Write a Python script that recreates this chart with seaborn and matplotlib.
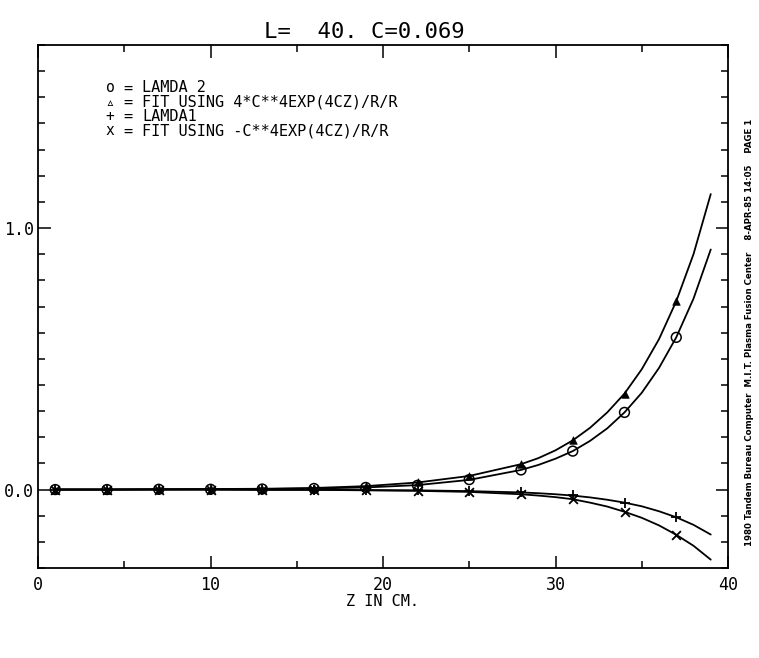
import numpy as np
import matplotlib
matplotlib.use("Agg")
import matplotlib.pyplot as plt
import seaborn as sns
from matplotlib.ticker import MultipleLocator, FormatStrFormatter

# 측정점 (z 위치)
z_pts = [1, 4, 7, 10, 13, 16, 19, 22, 25, 28, 31, 34, 37]
lamda2 = [0.000, 0.000, 0.001, 0.001, 0.002, 0.004, 0.008, 0.016, 0.038, 0.075, 0.147, 0.295, 0.582]
fit_pos = [0.000, 0.000, 0.001, 0.002, 0.003, 0.006, 0.013, 0.028, 0.052, 0.097, 0.188, 0.367, 0.720]
lamda1 = [0.000, 0.000, 0.000, 0.000, -0.001, -0.001, -0.002, -0.003, -0.006, -0.011, -0.021, -0.050, -0.106]
fit_neg = [0.000, 0.000, 0.000, 0.000, -0.001, -0.001, -0.003, -0.005, -0.008, -0.018, -0.037, -0.085, -0.173]

# 곡선
z_line = [1, 4, 7, 10, 13, 16, 19, 22, 25, 28, 29, 30, 31, 32, 33, 34, 35, 36, 37, 38, 39]
line_lamda2 = [0.000, 0.000, 0.001, 0.001, 0.002, 0.004, 0.008, 0.017, 0.037, 0.075, 0.094, 0.118, 0.147,
               0.186, 0.234, 0.295, 0.370, 0.465, 0.582, 0.730, 0.918]
line_fit_pos = [0.000, 0.000, 0.001, 0.002, 0.003, 0.006, 0.013, 0.027, 0.052, 0.097, 0.120, 0.150, 0.188,
                0.236, 0.295, 0.367, 0.460, 0.575, 0.720, 0.900, 1.130]
line_lamda1 = [0.000, 0.000, 0.000, 0.000, -0.001, -0.001, -0.002, -0.003, -0.006, -0.011, -0.014, -0.018,
               -0.023, -0.030, -0.039, -0.050, -0.064, -0.083, -0.106, -0.135, -0.172]
line_fit_neg = [0.000, 0.000, 0.000, 0.000, -0.001, -0.001, -0.003, -0.005, -0.009, -0.018, -0.023, -0.029,
                -0.037, -0.050, -0.065, -0.085, -0.108, -0.137, -0.173, -0.215, -0.268]

title = "L=  40. C=0.069"
legend_rows = [("o", "LAMDA 2"),
               ("\u25b5", "FIT USING 4*C**4EXP(4CZ)/R/R"),
               ("+", "LAMDA1"),
               ("x", "FIT USING -C**4EXP(4CZ)/R/R")]
side_note = "1980 Tandem Bureau Computer  M.I.T. Plasma Fusion Center    8-APR-85 14:05    PAGE 1"

sns.set_style("ticks")
plt.rcParams['font.family'] = ['DejaVu Sans Mono', 'DejaVu Sans']
plt.rcParams['text.color'] = 'black'
plt.rcParams['axes.labelcolor'] = 'black'

fig = plt.figure(figsize=(7.59, 6.58), dpi=100)
ax = fig.add_axes([38/759, 1-568/658, 690/759, 523/658])

for yy in [line_lamda2, line_fit_pos, line_lamda1, line_fit_neg]:
    sns.lineplot(x=z_line, y=yy, ax=ax, color='black', linewidth=1.3)

sns.scatterplot(x=z_pts, y=lamda2, ax=ax, marker='o', s=50, facecolor='none',
                edgecolor='black', linewidth=1.1, zorder=3)
sns.scatterplot(x=z_pts, y=fit_pos, ax=ax, marker='^', s=30, color='black',
                edgecolor='black', zorder=3)
sns.scatterplot(x=z_pts, y=lamda1, ax=ax, marker='+', s=50, color='black',
                linewidth=1.3, zorder=3)
sns.scatterplot(x=z_pts, y=fit_neg, ax=ax, marker='x', s=40, color='black',
                linewidth=1.3, zorder=3)

ax.set_xlim(0, 40)
ax.set_ylim(-0.3, 1.7)
ax.xaxis.set_major_locator(MultipleLocator(10))
ax.xaxis.set_minor_locator(MultipleLocator(5))
ax.yaxis.set_major_locator(MultipleLocator(1.0))
ax.yaxis.set_minor_locator(MultipleLocator(0.1))
ax.yaxis.set_major_formatter(FormatStrFormatter('%.1f'))
ax.tick_params(which='both', direction='in', top=True, right=True, colors='black',
               labelsize=12, width=1.1)
ax.tick_params(which='major', length=9)
ax.tick_params(axis='x', which='major', pad=6)
ax.tick_params(axis='y', which='major', pad=3)
ax.tick_params(which='minor', length=5)
for s in ax.spines.values():
    s.set_linewidth(1.3)
    s.set_color('black')
ax.set_xlabel("Z IN CM.", fontsize=11, labelpad=0)
ax.set_ylabel("")

fig.text(364/759, 1-32/658, title, ha='center', va='center', fontsize=16)

for i, (sym, txt) in enumerate(legend_rows):
    yy = 1 - (88 + i*14.3)/658
    fig.text(110/759, yy, sym, ha='center', va='center', fontsize=10.5)
    fig.text(128/759, yy, "=", ha='center', va='center', fontsize=11)
    fig.text(142/759, yy, txt, ha='left', va='center', fontsize=11)

fig.text(750/759, 1-332/658, side_note, rotation=90, ha='center', va='center',
         fontsize=6.2, fontweight='bold', family='DejaVu Sans')

fig.savefig("out.png", dpi=100)
